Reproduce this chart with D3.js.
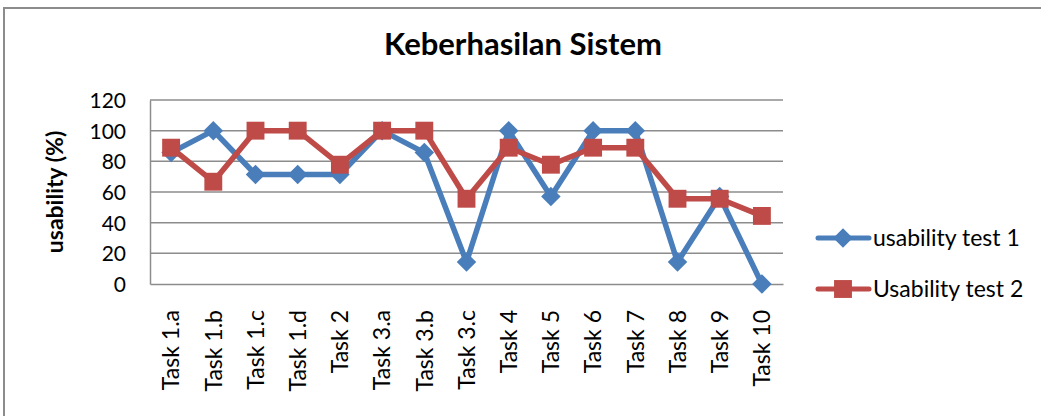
<!DOCTYPE html>
<html>
<head>
<meta charset="utf-8">
<script src="https://cdn.jsdelivr.net/npm/d3@7"></script>
<style>
    body { margin: 0; background: #fff; }
    text { font-family: Lato, "Open Sans", sans-serif; fill: #000; }
</style>
</head>
<body>
<svg id="chart" width="1041" height="416"></svg>
<script>
// data
const tasks = ['Task 1.a', 'Task 1.b', 'Task 1.c', 'Task 1.d', 'Task 2', 'Task 3.a', 'Task 3.b',
    'Task 3.c', 'Task 4', 'Task 5', 'Task 6', 'Task 7', 'Task 8', 'Task 9', 'Task 10'];
const test1 = [85.7, 100, 71.4, 71.4, 71.4, 100, 85.7, 14.3, 100, 57.1, 100, 100, 14.3, 57.1, 0];
const test2 = [88.9, 66.7, 100, 100, 77.8, 100, 100, 55.6, 88.9, 77.8, 88.9, 88.9, 55.6, 55.6, 44.4];
const yTicks = [0, 20, 40, 60, 80, 100, 120];
const seriesNames = ['usability test 1', 'Usability test 2'];

const svg = d3.select('#chart');

// outer frame (right and bottom edges are cut off)
svg.append('rect')
    .attr('x', 4).attr('y', 8)
    .attr('width', 1100).attr('height', 500)
    .attr('fill', 'none')
    .attr('stroke', '#8c8c8c')
    .attr('stroke-width', 2);

const plotLeft = 150, plotRight = 783, plotTop = 100, plotBottom = 284;

const x = d3.scaleBand()
    .domain(tasks)
    .range([plotLeft, plotRight]);
const y = d3.scaleLinear()
    .domain([0, 120])
    .range([plotBottom, plotTop]);

// title
svg.append('text')
    .attr('x', 523).attr('y', 55)
    .attr('text-anchor', 'middle')
    .style('font-size', '31px')
    .style('font-weight', 'bold')
    .text('Keberhasilan Sistem');

// grid
svg.append('g').selectAll('line')
    .data(yTicks.filter(d => d > 0))
    .enter().append('line')
    .attr('x1', plotLeft).attr('x2', plotRight)
    .attr('y1', d => y(d)).attr('y2', d => y(d))
    .attr('stroke', '#8c8c8c')
    .attr('stroke-width', 1.5);

// axes
const yAxis = svg.append('g')
    .attr('transform', `translate(${plotLeft},0)`)
    .call(d3.axisLeft(y).tickValues(yTicks).tickSize(0).tickPadding(24));
yAxis.select('.domain').attr('stroke', '#8c8c8c').attr('stroke-width', 1.5);
yAxis.selectAll('text').style('font-size', '21px').attr('dy', '0.36em');

const xAxis = svg.append('g')
    .attr('transform', `translate(0,${plotBottom})`)
    .call(d3.axisBottom(x).tickSize(0));
xAxis.select('.domain').attr('stroke', '#8c8c8c').attr('stroke-width', 1.5);
xAxis.selectAll('text')
    .style('font-size', '23px')
    .attr('text-anchor', 'end')
    .attr('transform', 'rotate(-90)')
    .attr('x', -26)
    .attr('y', 0)
    .attr('dy', '0.36em');

// y axis title
svg.append('text')
    .attr('transform', 'translate(63,192) rotate(-90)')
    .attr('text-anchor', 'middle')
    .style('font-size', '23px')
    .style('font-weight', 'bold')
    .text('usability (%)');

const cx = d => x(d) + x.bandwidth() / 2;
const colors = ['#4a7ebb', '#be4b48'];

// Excel style diamond: a square turned 45 degrees
const rhombus = {
    draw(context, size) {
        const r = Math.sqrt(size / 2);
        context.moveTo(0, -r);
        context.lineTo(r, 0);
        context.lineTo(0, r);
        context.lineTo(-r, 0);
        context.closePath();
    }
};
const diamond = d3.symbol().type(rhombus).size(190);
const square = d3.symbol().type(d3.symbolSquare).size(320);

[test1, test2].forEach((vals, k) => {
    const line = d3.line()
        .x((d, i) => cx(tasks[i]))
        .y(d => y(d));
    svg.append('path')
        .attr('d', line(vals))
        .attr('fill', 'none')
        .attr('stroke', colors[k])
        .attr('stroke-width', 5.5)
        .attr('stroke-linejoin', 'round');
    svg.append('g').selectAll('path')
        .data(vals)
        .enter().append('path')
        .attr('d', k === 0 ? diamond : square)
        .attr('transform', (d, i) => `translate(${cx(tasks[i])},${y(d)})`)
        .attr('fill', colors[k]);
});

// legend
const legend = svg.append('g');
seriesNames.forEach((name, k) => {
    const ly = 238 + k * 51;
    legend.append('line')
        .attr('x1', 818).attr('x2', 869)
        .attr('y1', ly).attr('y2', ly)
        .attr('stroke', colors[k])
        .attr('stroke-width', 5)
        .attr('stroke-linecap', 'round');
    legend.append('path')
        .attr('d', k === 0 ? diamond : square)
        .attr('transform', `translate(843,${ly})`)
        .attr('fill', colors[k]);
    legend.append('text')
        .attr('x', 873).attr('y', ly)
        .attr('dy', '0.36em')
        .style('font-size', '23px')
        .text(name);
});
</script>
</body>
</html>
